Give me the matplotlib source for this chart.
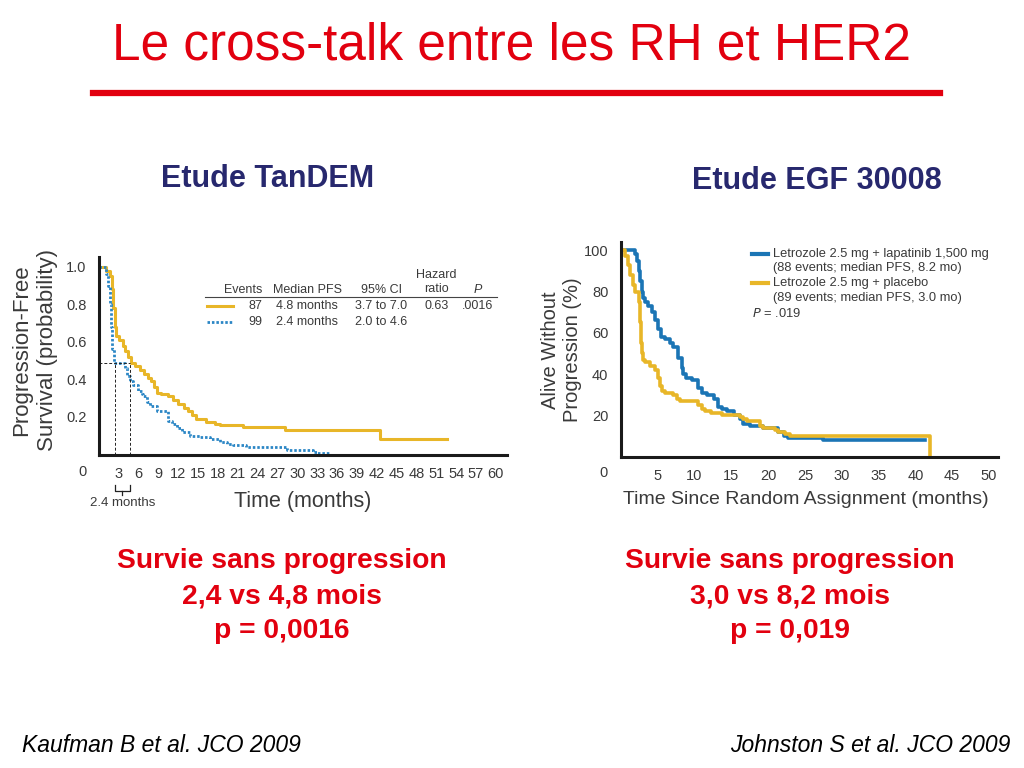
import matplotlib
matplotlib.use("Agg")
import matplotlib.pyplot as plt

plt.rcParams["font.family"] = ["Liberation Sans", "DejaVu Sans"]

GREY = "#3a3a3a"
YELLOW = "#E8B628"
BLUE_L = "#2B86C5"
BLUE_R = "#1B75B5"
RED = "#E2000F"
NAVY = "#27286E"

# TanDEM (Kaufman 2009): trastuzumab + anastrozole vs anastrozole
TAN_T = [0, 1.1, 1.6, 1.9, 2.1, 2.4, 2.6, 3.1, 3.6, 4.0, 4.4, 4.9, 5.4, 6.15,
         6.75, 7.4, 7.9, 8.3, 8.7, 9.4, 10.4, 11.2, 12.0, 12.8, 13.5, 14.0,
         14.7, 16.2, 17.5, 18.3, 21.8, 28.1, 42.5, 52.7]
TAN_S = [1.0, 0.98, 0.95, 0.88, 0.78, 0.68, 0.63, 0.61, 0.58, 0.55, 0.52,
         0.49, 0.47, 0.45, 0.43, 0.41, 0.39, 0.36, 0.33, 0.32, 0.31, 0.29,
         0.27, 0.25, 0.23, 0.21, 0.19, 0.175, 0.165, 0.155, 0.147, 0.13,
         0.085, 0.085]
ANA_T = [0, 1.0, 1.3, 1.6, 1.8, 2.0, 2.2, 3.9, 4.16, 4.67, 5.17, 5.93, 6.43,
         6.69, 7.19, 7.7, 8.7, 10.47, 10.97, 11.73, 12.48, 13.75, 15.26,
         16.77, 18.29, 19.3, 20.3, 22.3, 28.4, 32.4, 32.9, 34.9]
ANA_S = [1.0, 0.96, 0.9, 0.8, 0.68, 0.56, 0.49, 0.46, 0.42, 0.39, 0.37, 0.34,
         0.325, 0.31, 0.28, 0.26, 0.23, 0.18, 0.165, 0.14, 0.12, 0.10, 0.093,
         0.084, 0.066, 0.057, 0.048, 0.039, 0.025, 0.0125, 0.007, 0.007]
TAN_MEDIANS = [2.4, 4.7]
TAN_MEDIAN_S = 0.49

# EGF30008 (Johnston 2009): letrozole + lapatinib vs letrozole + placebo
LAP_T = [0, 1.9, 2.15, 2.4, 2.6, 2.8, 3.05, 3.3, 3.7, 4.2, 4.6, 5.1, 5.5, 6.0,
         6.7, 7.1, 7.8, 8.3, 8.5, 8.9, 9.6, 10.5, 11.0, 11.7, 12.6, 13.2, 13.7,
         14.4, 15.3, 16.2, 16.6, 17.5, 19.35, 21.4, 22.1, 22.7, 27.5, 41.3]
LAP_S = [100, 98, 95, 90, 85, 80, 77, 75, 73, 70, 66, 62, 58, 57, 55, 53, 48,
         43, 40, 38, 37, 33, 31, 30, 28, 24, 23, 22, 20, 18, 16, 15, 14, 12,
         10, 9, 8, 8]
PLA_T = [0, 0.56, 1.0, 1.25, 1.7, 1.9, 2.4, 2.6, 2.7, 2.8, 3.05, 3.3, 3.96,
         4.6, 5.1, 5.3, 5.55, 6.0, 7.1, 7.6, 8.0, 10.5, 11.0, 11.4, 12.3, 13.7,
         16.2, 16.6, 17.1, 18.9, 19.35, 20.9, 21.4, 22.3, 23.0, 42.0]
PLA_S = [100, 97, 93, 88, 83, 80, 75, 65, 55, 50, 47, 46, 44, 42, 38, 34, 32,
         31, 30, 28, 27, 25, 23, 22, 21, 20, 19, 18, 17, 15, 14, 13, 12, 11,
         10, 0]

TAN_XTICKS = list(range(3, 61, 3))
TAN_YTICKS = [0.2, 0.4, 0.6, 0.8, 1.0]
EGF_XTICKS = list(range(5, 51, 5))
EGF_YTICKS = [20, 40, 60, 80, 100]

TABLE_HEAD = ["Events", "Median PFS", "95% CI", "Hazard\nratio", "P"]
TABLE_ROW1 = ["87", "4.8 months", "3.7 to 7.0", "0.63", ".0016"]
TABLE_ROW2 = ["99", "2.4 months", "2.0 to 4.6", "", ""]


def style_axes(ax):
    for side in ("top", "right"):
        ax.spines[side].set_visible(False)
    for side in ("left", "bottom"):
        ax.spines[side].set_linewidth(2.2)
        ax.spines[side].set_color("#1a1a1a")
    ax.tick_params(length=0, labelsize=10.5, labelcolor=GREY, pad=9)
    ax.set_facecolor("none")


fig = plt.figure(figsize=(10.24, 7.68), dpi=100)

# header
fig.text(0.5, 0.94, "Le cross-talk entre les RH et HER2", color=RED,
         fontsize=37, ha="center", va="center")
fig.add_artist(plt.Line2D([93 / 1024, 940 / 1024], [1 - 93 / 768] * 2,
                          color=RED, linewidth=4.5))
fig.text(268 / 1024, 1 - 179 / 768, "Etude TanDEM", color=NAVY, fontsize=22,
         weight="bold", ha="center", va="center")
fig.text(817 / 1024, 1 - 181 / 768, "Etude EGF 30008", color=NAVY, fontsize=22,
         weight="bold", ha="center", va="center")

# ---- left: TanDEM
ax1 = fig.add_axes([99 / 1024, 1 - 454.5 / 768, 408 / 1024, 197.5 / 768])
style_axes(ax1)
ax1.step(TAN_T, TAN_S, where="post", color=YELLOW, linewidth=2.2)
ax1.step(ANA_T, ANA_S, where="post", color=BLUE_L, linewidth=2.0, linestyle=(0, (0.9, 0.7)))
ax1.plot([0, TAN_MEDIANS[1]], [TAN_MEDIAN_S] * 2, color="#222222", linewidth=0.7,
         linestyle=(0, (3, 2)))
for m in TAN_MEDIANS:
    ax1.plot([m, m], [0, TAN_MEDIAN_S], color="#222222", linewidth=0.7,
             linestyle=(0, (3, 2)))
ax1.set_xlim(0, 61.7)
ax1.set_ylim(0, 1.053)
ax1.set_xticks(TAN_XTICKS)
ax1.set_yticks(TAN_YTICKS)
ax1.set_yticklabels([f"{v:.1f}" for v in TAN_YTICKS])
ax1.text(-0.04, -0.09, "0", transform=ax1.transAxes, fontsize=10.5, color=GREY,
         ha="center", va="center")
ax1.set_xlabel("Time (months)", fontsize=15.5, color=GREY)
ax1.xaxis.set_label_coords(0.5, -0.185)
ax1.set_ylabel("Progression-Free\nSurvival (probability)", fontsize=16,
               color=GREY, linespacing=1.3)
ax1.yaxis.set_label_coords(-0.1, 0.53)

# bracket showing the 2.4 month gain
bx = [TAN_MEDIANS[0], TAN_MEDIANS[0], TAN_MEDIANS[1], TAN_MEDIANS[1]]
ax1.plot(bx, [-0.165, -0.195, -0.195, -0.165], color="#222222", linewidth=0.9,
         clip_on=False)
mid = sum(TAN_MEDIANS) / 2
ax1.plot([mid, mid], [-0.195, -0.215], color="#222222", linewidth=0.9, clip_on=False)
ax1.text(mid, -0.26, "2.4 months", fontsize=9.5, color=GREY, ha="center", va="center")

# summary table
tx = [24.7, 31.5, 42.7, 51.0, 57.3]
tha = ["right", "center", "center", "center", "center"]
for i, h in enumerate(TABLE_HEAD):
    yy = 0.92 if "\n" in h else 0.878
    ax1.text(tx[i], yy, h, fontsize=9, color=GREY, ha=tha[i], va="center",
             style="italic" if h == "P" else "normal",
             multialignment="center", linespacing=1.3)
ax1.plot([16.0, 60.2], [0.84, 0.84], color="#444444", linewidth=0.8)
for row, yy in ((TABLE_ROW1, 0.792), (TABLE_ROW2, 0.707)):
    for i, v in enumerate(row):
        ax1.text(tx[i], yy, v, fontsize=9, color=GREY, ha=tha[i], va="center")
ax1.plot([16.3, 20.3], [0.792, 0.792], color=YELLOW, linewidth=2.2)
ax1.plot([16.3, 20.3], [0.707, 0.707], color=BLUE_L, linewidth=2.0,
         linestyle=(0, (0.9, 0.7)))

# ---- right: EGF30008
ax2 = fig.add_axes([620.9 / 1024, 1 - 456.5 / 768, 377 / 1024, 214.5 / 768])
style_axes(ax2)
ax2.step(LAP_T, LAP_S, where="post", color=BLUE_R, linewidth=2.6)
ax2.step(PLA_T, PLA_S, where="post", color=YELLOW, linewidth=2.6)
ax2.set_xlim(0, 51.2)
ax2.set_ylim(0, 104)
ax2.set_xticks(EGF_XTICKS)
ax2.set_yticks(EGF_YTICKS)
ax2.text(-0.045, -0.077, "0", transform=ax2.transAxes, fontsize=10.5, color=GREY,
         ha="center", va="center")
ax2.set_xlabel("Time Since Random Assignment (months)", fontsize=14, color=GREY)
ax2.xaxis.set_label_coords(0.49, -0.162)
ax2.set_ylabel("Alive Without\nProgression (%)", fontsize=14.5, color=GREY,
               linespacing=1.2)
ax2.yaxis.set_label_coords(-0.102, 0.497)

ax2.plot([17.8, 20.0], [98.2, 98.2], color=BLUE_R, linewidth=3)
ax2.plot([17.8, 20.0], [84.1, 84.1], color=YELLOW, linewidth=3)
leg_txt = [("Letrozole 2.5 mg + lapatinib 1,500 mg", 98.2),
           ("(88 events; median PFS, 8.2 mo)", 91.4),
           ("Letrozole 2.5 mg + placebo", 84.1),
           ("(89 events; median PFS, 3.0 mo)", 76.8)]
for s, yy in leg_txt:
    ax2.text(20.7, yy, s, fontsize=9.3, color=GREY, ha="left", va="center")
ax2.text(17.8, 69.1, "$P$ = .019", fontsize=9.3, color=GREY, ha="left", va="center")

# conclusions
for cx, lines in ((282, ["Survie sans progression", "2,4 vs 4,8 mois", "p = 0,0016"]),
                  (790, ["Survie sans progression", "3,0 vs 8,2 mois", "p = 0,019"])):
    for j, s in enumerate(lines):
        fig.text(cx / 1024, 1 - (561 + 35 * j) / 768, s, color=RED, fontsize=20.3,
                 weight="bold", ha="center", va="center")

fig.text(22 / 1024, 1 - 745 / 768, "Kaufman B et al. JCO 2009", fontsize=16.5,
         style="italic", ha="left", va="center", color="black")
fig.text(1010 / 1024, 1 - 745 / 768, "Johnston S et al. JCO 2009", fontsize=16.5,
         style="italic", ha="right", va="center", color="black")

fig.savefig("out.png", dpi=100)
